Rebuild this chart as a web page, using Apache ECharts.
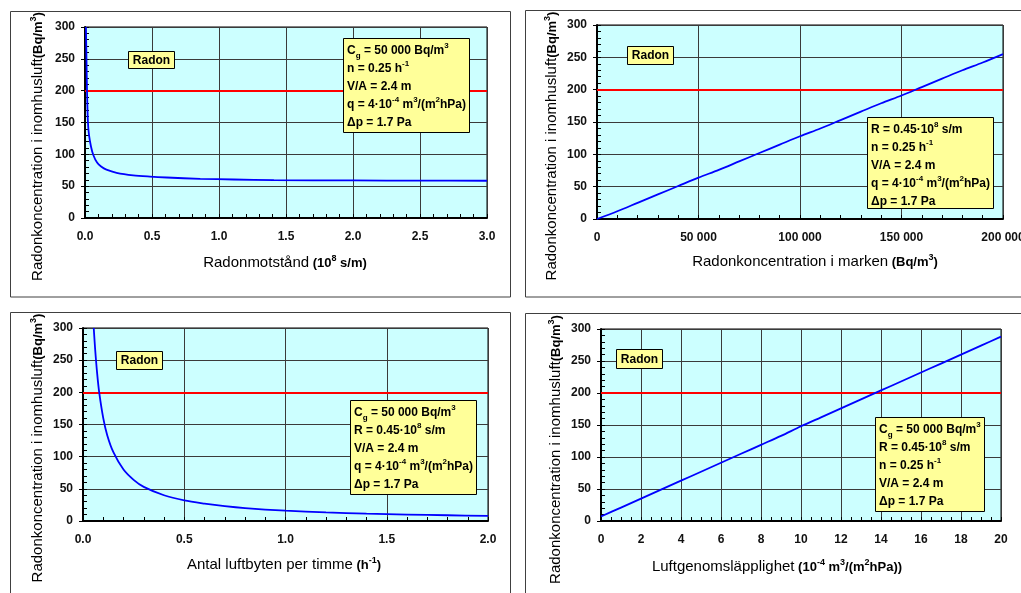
<!DOCTYPE html>
<html><head><meta charset="utf-8">
<script src="https://cdn.jsdelivr.net/npm/echarts@6/dist/echarts.min.js"></script>
<style>html,body{margin:0;padding:0;background:#fff}#c{width:1021px;height:593px}</style>
</head><body><div id="c"></div><script>
// ---- data ----
const limit = 200;
const yMax = 300;
// Panel 1: radon resistance (10^8 s/m)
const resistance = [0.007,0.011,0.015,0.022,0.03,0.045,0.062,0.09,0.12,0.16,0.236,0.36,0.485,0.61,0.86,1.11,1.41,2.0,2.5,3.0];
const concByResistance = [300,250,200,150,130,112,99,87,81,76,71,67,65,63.6,61.5,60.5,59.4,59,58.7,58.5];
// Panel 2: radon concentration in soil (Bq/m3)
const soilConc = [0,10000,20000,30000,40000,50000,60000,70000,80000,90000,100000,110000,120000,130000,140000,150000,160000,170000,180000,190000,200000];
const concBySoil = [0,12,25,38,51,64,76,89,102,115,128,140,153,166,179,191,204,217,230,242,255];
// Panel 3: air changes per hour (h-1)
const airChange = [0.053,0.06,0.07,0.08,0.1,0.12,0.15,0.2,0.25,0.3,0.4,0.5,0.6,0.7,0.8,1.0,1.2,1.4,1.6,1.8,2.0];
const concByAirChange = [300,267,229,200,160,133,107,80,64,53,40,32,27,23,20,16,13.3,11.4,10,8.9,8];
// Panel 4: air permeability (10^-4 m3/(m2hPa))
const permeability = [0,1,2,3,4,5,6,7,8,9,10,11,12,13,14,15,16,17,18,19,20];
const concByPermeability = [7,21,35,49,63,77,91,105,119,133,148,162,176,190,204,218,232,246,260,274,288];

// ---- layout ----
const FF = "'Liberation Sans', Arial, sans-serif";
const grids = [
  {left:85, top:27, width:402, height:191},
  {left:597, top:25, width:406, height:194},
  {left:83, top:328, width:405, height:193},
  {left:601, top:329, width:400, height:192}
];
const xCfg = [
  {max:3, interval:0.5, minor:5, fmt:v=>v.toFixed(1)},
  {max:200000, interval:50000, minor:5, fmt:v=>v===0?'0':(v/1000)+' 000'},
  {max:2, interval:0.5, minor:5, fmt:v=>v.toFixed(1)},
  {max:20, interval:2, minor:4, fmt:v=>String(v)}
];
const seriesData = [
  [resistance, concByResistance],
  [soilConc, concBySoil],
  [airChange, concByAirChange],
  [permeability, concByPermeability]
];

const yMain = grids.map((g,i)=>({
  type:'value', gridIndex:i, min:0, max:yMax, interval:50,
  axisLine:{show:true, onZero:false, lineStyle:{color:'#000', width:2}},
  axisTick:{show:true, inside:true, length:4, lineStyle:{color:'#000'}},
  minorTick:{show:true, splitNumber:5, length:4, lineStyle:{color:'#000', width:1}},
  splitLine:{show:true, lineStyle:{color:'#3a3a3a', width:1}},
  axisLabel:{margin:10, color:'#111', fontFamily:FF, fontWeight:'bold', fontSize:12}
}));
const yOuterTicks = grids.map((g,i)=>({
  type:'value', gridIndex:i, min:0, max:yMax, interval:50, position:'left',
  axisLine:{show:false}, axisTick:{show:true, inside:false, length:4, lineStyle:{color:'#000', width:1}},
  minorTick:{show:false}, splitLine:{show:false}, axisLabel:{show:false}
}));

const option = {
  animation:false,
  backgroundColor:'#fff',
  grid: grids.map(g=>Object.assign({show:true, backgroundColor:'#ccffff', borderColor:'#000', borderWidth:1, outerBoundsMode:'none', containLabel:false}, g)),
  xAxis: xCfg.map((c,i)=>({
    type:'value', gridIndex:i, min:0, max:c.max, interval:c.interval,
    axisLine:{show:true, onZero:false, lineStyle:{color:'#000', width:2}},
    axisTick:{show:true, inside:true, length:4, lineStyle:{color:'#000'}},
    minorTick:{show:true, splitNumber:c.minor, length:4, lineStyle:{color:'#000', width:1}},
    splitLine:{show:true, lineStyle:{color:'#3a3a3a', width:1}},
    axisLabel:{margin:13, color:'#111', fontFamily:FF, fontWeight:'bold', fontSize:12, formatter:c.fmt}
  })),
  yAxis: yMain.concat(yOuterTicks),
  series: seriesData.map((d,i)=>({
    type:'line', xAxisIndex:i, yAxisIndex:i, showSymbol:false, symbol:'none', smooth:0.3,
    data:d[0].map((x,k)=>[x,d[1][k]]),
    lineStyle:{color:'#0000ff', width:1.8}, clip:true, z:3,
    markLine:{silent:true, symbol:'none', label:{show:false}, z:2,
      lineStyle:{color:'#ff0000', width:2, type:'solid'}, data:[{yAxis:limit}]}
  }))
};

// ---- texts ----
const bold12 = {fontFamily:FF, fontWeight:'bold', fontSize:12, lineHeight:18, color:'#000'};
const richParam = {
  b: bold12,
  sup:{fontFamily:FF, fontWeight:'bold', fontSize:8, lineHeight:11, verticalAlign:'top', color:'#000'},
  sub:{fontFamily:FF, fontWeight:'bold', fontSize:8, lineHeight:10, verticalAlign:'bottom', color:'#000'}
};
const L = {
  cg:'{b|C}{sub|g}{b| = 50 000 Bq/m}{sup|3}',
  n:'{b|n = 0.25 h}{sup|-1}',
  va:'{b|V/A = 2.4 m}',
  q:'{b|q = 4·10}{sup|-4}{b| m}{sup|3}{b|/(m}{sup|2}{b|hPa)}',
  dp:'{b|Δp = 1.7 Pa}',
  r:'{b|R = 0.45·10}{sup|8}{b| s/m}'
};
const boxes = [
  {radon:[128,51,46,17], box:[343,38,126,94], lines:[L.cg,L.n,L.va,L.q,L.dp]},
  {radon:[627,46,46,18], box:[867,117,126,91], lines:[L.r,L.n,L.va,L.q,L.dp]},
  {radon:[116,351,46,18], box:[350,400,126,94], lines:[L.cg,L.r,L.va,L.q,L.dp]},
  {radon:[616,349,46,19], box:[875,417,109,94], lines:[L.cg,L.r,L.n,L.va,L.dp]}
];
const frames = [[10.5,11.5,500,285.5],[525.5,10.5,600,286.5],[10.5,312.5,500,300],[525.5,313.5,600,300]];

const graphic = [];
frames.forEach(f=>graphic.push({type:'rect', z:1, silent:true, shape:{x:f[0],y:f[1],width:f[2],height:f[3]}, style:{fill:'none', stroke:'#404040', lineWidth:1}}));
boxes.forEach(b=>{
  const r=b.radon, p=b.box;
  graphic.push({type:'rect', z:50, shape:{x:r[0]+0.5,y:r[1]+0.5,width:r[2],height:r[3]}, style:{fill:'#ffff99', stroke:'#000', lineWidth:1}});
  graphic.push({type:'text', z:51, x:r[0]+r[2]/2+0.5, y:r[1]+r[3]/2+1, style:{text:'Radon', font:"bold 12px "+FF, fill:'#000', align:'center', verticalAlign:'middle'}});
  graphic.push({type:'rect', z:50, shape:{x:p[0]+0.5,y:p[1]+0.5,width:p[2],height:p[3]}, style:{fill:'#ffff99', stroke:'#000', lineWidth:1}});
  graphic.push({type:'text', z:51, x:p[0]+4, y:p[1]+4, style:{text:b.lines.join('\n'), rich:richParam, align:'left', verticalAlign:'top'}});
});
const richTitle = {
  n:{fontFamily:FF, fontSize:15, lineHeight:18, color:'#222'},
  bb:{fontFamily:FF, fontSize:13, fontWeight:'bold', lineHeight:18, color:'#222'},
  bsup:{fontFamily:FF, fontSize:9, fontWeight:'bold', lineHeight:11, verticalAlign:'top', color:'#222'}
};
const yTitle = '{n|Radonkoncentration i inomhusluft}{bb|(Bq/m}{bsup|3}{bb|)}';
[[38,146.5],[552,146],[38,448],[556,449.5]].forEach(p=>graphic.push({type:'text', z:20, x:p[0], y:p[1], rotation:Math.PI/2, style:{text:yTitle, rich:richTitle, align:'center', verticalAlign:'middle'}}));
const xTitles = [
  [285,263,'{n|Radonmotstånd}{bb| (10}{bsup|8}{bb| s/m)}'],
  [815,262,'{n|Radonkoncentration i marken}{bb| (Bq/m}{bsup|3}{bb|)}'],
  [284,565,'{n|Antal luftbyten per timme}{bb| (h}{bsup|-1}{bb|)}'],
  [777,567,'{n|Luftgenomsläpplighet}{bb| (10}{bsup|-4}{bb| m}{bsup|3}{bb|/(m}{bsup|2}{bb|hPa))}']
];
xTitles.forEach(t=>graphic.push({type:'text', z:20, x:t[0], y:t[1], style:{text:t[2], rich:richTitle, align:'center', verticalAlign:'middle'}}));
option.graphic = graphic;

const chart = echarts.init(document.getElementById('c'), null, {renderer:'canvas', width:1021, height:593});
chart.setOption(option);
</script></body></html>
